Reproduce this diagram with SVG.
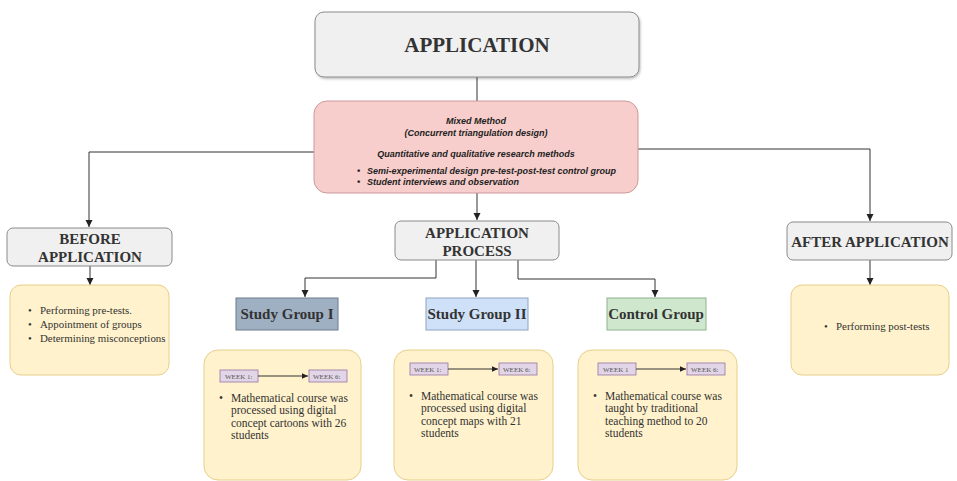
<svg xmlns="http://www.w3.org/2000/svg" width="957" height="481" viewBox="0 0 957 481">
<defs>
<marker id="arr" markerWidth="8" markerHeight="8" refX="7" refY="4" orient="auto" markerUnits="userSpaceOnUse">
<path d="M0,0.5 L7,4 L0,7.5 Z" fill="#222"/>
</marker>
<marker id="arrs" markerWidth="7" markerHeight="7" refX="6" refY="3.5" orient="auto" markerUnits="userSpaceOnUse">
<path d="M0,0.8 L6,3.5 L0,6.2 Z" fill="#222"/>
</marker>
<filter id="sh" x="-5%" y="-5%" width="110%" height="120%">
<feDropShadow dx="1" dy="1.5" stdDeviation="1" flood-color="#000" flood-opacity="0.25"/>
</filter>
</defs>
<style>
.gray{fill:#f0f0f0;stroke:#8a8a8a;stroke-width:1}
.yel{fill:#fff2cc;stroke:#e6cf8a;stroke-width:1}
.wk{fill:#e1d5e7;stroke:#9673a6;stroke-width:0.8}
.h{font-family:"Liberation Serif",serif;font-weight:bold;fill:#333;text-anchor:middle}
.b{font-family:"Liberation Serif",serif;font-size:11.5px;fill:#333}
.bs{font-family:"Liberation Serif",serif;font-size:10.9px;fill:#333}
.p{font-family:"Liberation Sans",Arial,sans-serif;font-weight:bold;font-style:italic;font-size:9px;fill:#222}
.w{font-family:"Liberation Serif",serif;font-size:7px;fill:#555}
.c{fill:none;stroke:#333;stroke-width:1}
</style>
<rect width="957" height="481" fill="#fff"/>
<g id="connectors">
<path class="c" d="M477,77 V101"/>
<path class="c" d="M314,152 H89 V227" marker-end="url(#arr)"/>
<path class="c" d="M638,149 H870 V221" marker-end="url(#arr)"/>
<path class="c" d="M477,193 V220" marker-end="url(#arr)"/>
<path class="c" d="M90,266 V285" marker-end="url(#arr)"/>
<path class="c" d="M870,260 V285" marker-end="url(#arr)"/>
<path class="c" d="M436,260 V278 H305 V297" marker-end="url(#arr)"/>
<path class="c" d="M476,260 V297" marker-end="url(#arr)"/>
<path class="c" d="M518,260 V279 H655 V297" marker-end="url(#arr)"/>
</g>
<g id="application">
<rect class="gray" x="315" y="12" width="324" height="65" rx="9" filter="url(#sh)"/>
<text class="h" x="477" y="52" font-size="21">APPLICATION</text>
</g>
<g id="mixed-method">
<rect x="314" y="101" width="324" height="92" rx="13" fill="#f8cecc" stroke="#c99" stroke-width="1"/>
<text class="p" x="476" y="124" text-anchor="middle">Mixed Method</text>
<text class="p" x="476" y="136" text-anchor="middle">(Concurrent triangulation design)</text>
<text class="p" x="476" y="157" text-anchor="middle">Quantitative and qualitative research methods</text>
<text class="p" x="357" y="174">•</text>
<text class="p" x="367" y="174">Semi-experimental design pre-test-post-test control group</text>
<text class="p" x="357" y="185">•</text>
<text class="p" x="367" y="185">Student interviews and observation</text>
</g>
<g id="before-application">
<rect class="gray" x="7" y="228" width="165" height="38" rx="6"/>
<text class="h" x="90" y="244" font-size="15">BEFORE</text>
<text class="h" x="90" y="262" font-size="15">APPLICATION</text>
</g>
<g id="before-list">
<rect class="yel" x="10" y="285" width="159" height="90" rx="11"/>
<text class="bs" x="28" y="314">•</text><text class="bs" x="40" y="314">Performing pre-tests.</text>
<text class="bs" x="28" y="328">•</text><text class="bs" x="40" y="328">Appointment of groups</text>
<text class="bs" x="28" y="342">•</text><text class="bs" x="40" y="342">Determining misconceptions</text>
</g>
<g id="application-process">
<rect class="gray" x="395" y="221" width="164" height="39" rx="6"/>
<text class="h" x="477" y="238" font-size="15">APPLICATION</text>
<text class="h" x="477" y="256" font-size="15">PROCESS</text>
</g>
<g id="after-application">
<rect class="gray" x="787" y="222" width="165" height="38" rx="6"/>
<text class="h" x="870" y="247" font-size="15">AFTER APPLICATION</text>
</g>
<g id="after-list">
<rect class="yel" x="791" y="285" width="158" height="90" rx="11"/>
<text class="bs" x="824" y="330">•</text><text class="bs" x="836" y="330">Performing post-tests</text>
</g>
<g id="study-group-1">
<rect x="236" y="298" width="102" height="32" fill="#9fb0c3" stroke="#6c7a8a" stroke-width="1"/>
<text class="h" x="287" y="319" font-size="15">Study Group I</text>
</g>
<g id="study-group-2">
<rect x="426" y="298" width="102" height="32" fill="#cfe1f8" stroke="#8ea4c0" stroke-width="1"/>
<text class="h" x="477" y="319" font-size="15">Study Group II</text>
</g>
<g id="control-group">
<rect x="607" y="298" width="99" height="32" fill="#cfe7cd" stroke="#8fb38d" stroke-width="1"/>
<text class="h" x="656" y="319" font-size="15">Control Group</text>
</g>
<g id="group-1-detail">
<rect class="yel" x="204" y="350" width="157" height="130" rx="14"/>
<rect class="wk" x="220" y="370" width="38" height="12"/>
<text class="w" x="225" y="379">WEEK 1:</text>
<path class="c" d="M258,376 H308" marker-end="url(#arrs)"/>
<rect class="wk" x="309" y="370" width="38" height="12"/>
<text class="w" x="313" y="379">WEEK 6:</text>
<text class="b" x="219" y="402">•</text><text class="b" x="231" y="402">Mathematical course was</text>
<text class="b" x="231" y="414">processed using digital</text>
<text class="b" x="231" y="427">concept cartoons with 26</text>
<text class="b" x="231" y="439">students</text>
</g>
<g id="group-2-detail">
<rect class="yel" x="394" y="350" width="159" height="130" rx="14"/>
<rect class="wk" x="410" y="363" width="38" height="12"/>
<text class="w" x="414" y="372">WEEK 1:</text>
<path class="c" d="M448,369 H498" marker-end="url(#arrs)"/>
<rect class="wk" x="499" y="363" width="38" height="12"/>
<text class="w" x="503" y="372">WEEK 6:</text>
<text class="b" x="409" y="400">•</text><text class="b" x="421" y="400">Mathematical course was</text>
<text class="b" x="421" y="412">processed using digital</text>
<text class="b" x="421" y="425">concept maps with 21</text>
<text class="b" x="421" y="437">students</text>
</g>
<g id="control-detail">
<rect class="yel" x="578" y="350" width="159" height="130" rx="14"/>
<rect class="wk" x="598" y="363" width="38" height="12"/>
<text class="w" x="603" y="372">WEEK 1</text>
<path class="c" d="M636,369 H686" marker-end="url(#arrs)"/>
<rect class="wk" x="687" y="363" width="38" height="12"/>
<text class="w" x="691" y="372">WEEK 6:</text>
<text class="b" x="593" y="400">•</text><text class="b" x="605" y="400">Mathematical course was</text>
<text class="b" x="605" y="412">taught by traditional</text>
<text class="b" x="605" y="425">teaching method to 20</text>
<text class="b" x="605" y="437">students</text>
</g>
</svg>
